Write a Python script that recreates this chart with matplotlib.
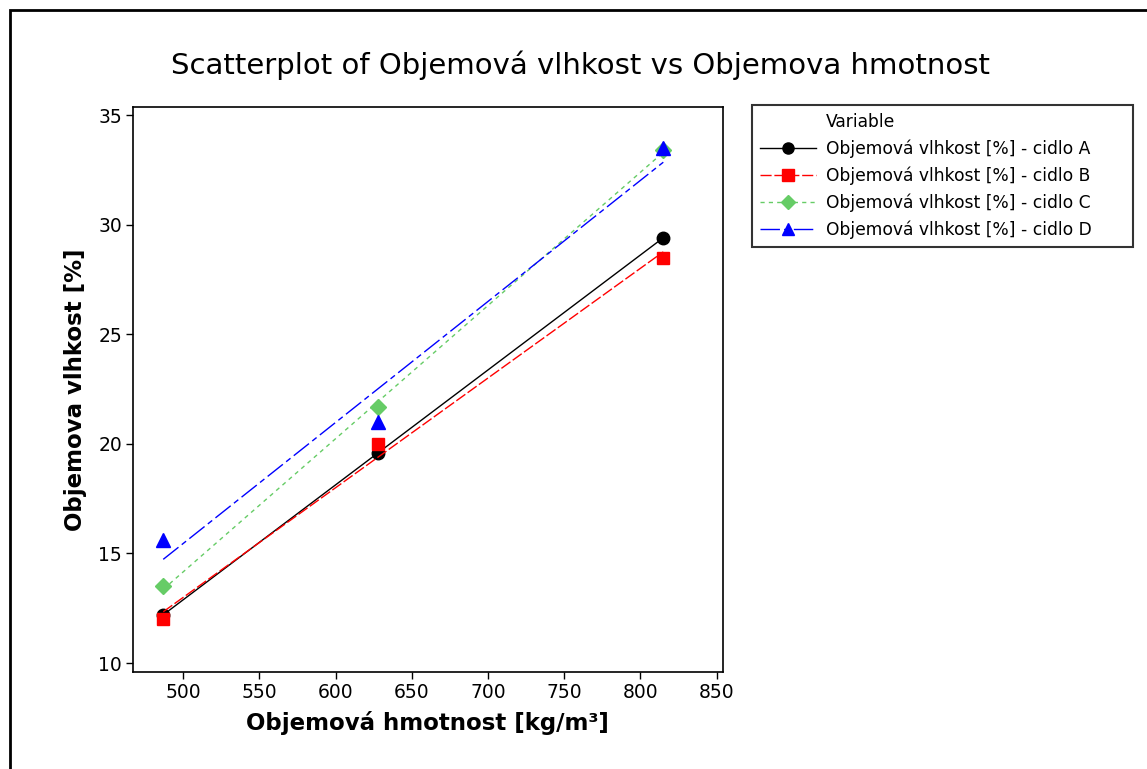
import numpy as np
import matplotlib.pyplot as plt
from matplotlib.lines import Line2D
from matplotlib.patches import Rectangle

# density values [kg/m3] and measured moisture per sensor [%]
hmotnost = [487, 628, 815]
cidlo_a = [12.2, 19.6, 29.4]
cidlo_b = [12.0, 20.0, 28.5]
cidlo_c = [13.5, 21.7, 33.4]
cidlo_d = [15.6, 21.0, 33.5]

labels = ["Objemová vlhkost [%] - cidlo A", "Objemová vlhkost [%] - cidlo B",
          "Objemová vlhkost [%] - cidlo C", "Objemová vlhkost [%] - cidlo D"]
xticks = [500, 550, 600, 650, 700, 750, 800, 850]
yticks = [10, 15, 20, 25, 30, 35]

plt.rcParams['font.family'] = 'DejaVu Sans'

fig = plt.figure(figsize=(11.47, 7.69), dpi=100)
ax = fig.add_axes([0.116, 0.126, 0.514, 0.735])

styles = [
    dict(color='black', marker='o', ms=9, ls='-', dashes=None),
    dict(color='#ff0000', marker='s', ms=9, ls='--', dashes=(8, 2)),
    dict(color='#66cc66', marker='D', ms=8, ls='--', dashes=(3, 3)),
    dict(color='#0000ff', marker='^', ms=10, ls='--', dashes=(14, 3, 4, 3)),
]

xs = np.array(hmotnost, dtype=float)
xfit = np.array([xs.min(), xs.max()])
handles = [Line2D([], [], ls='none', marker='none')]
for ys, st, lab in zip([cidlo_a, cidlo_b, cidlo_c, cidlo_d], styles, labels):
    k, q = np.polyfit(xs, ys, 1)
    line, = ax.plot(xfit, k * xfit + q, color=st['color'], lw=1.0, ls=st['ls'])
    if st['dashes'] is not None:
        line.set_dashes(st['dashes'])
    ax.plot(xs, ys, ls='none', marker=st['marker'], ms=st['ms'],
            color=st['color'], mec=st['color'])
    h = Line2D([], [], color=st['color'], lw=1.0, ls=st['ls'],
               marker=st['marker'], ms=st['ms'] - 1, mec=st['color'])
    if st['dashes'] is not None:
        h.set_dashes(st['dashes'])
    handles.append(h)

ax.set_xlim(467.2, 853.9)
ax.set_ylim(9.59, 35.37)
ax.set_xticks(xticks)
ax.set_yticks(yticks)
ax.tick_params(direction='out', length=5, width=1, labelsize=13.5, pad=3)
for s in ax.spines.values():
    s.set_linewidth(1.2)

ax.set_xlabel("Objemová hmotnost [kg/m³]", fontsize=16.5, fontweight='bold', labelpad=6)
ax.set_ylabel("Objemova vlhkost [%]", fontsize=16.5, fontweight='bold', labelpad=8)
fig.text(0.506, 0.915, "Scatterplot of Objemová vlhkost vs Objemova hmotnost",
         ha='center', va='center', fontsize=21)

leg = fig.legend(handles, ["Variable"] + labels, loc='upper left',
                 bbox_to_anchor=(752 / 1147, 1 - 105 / 769 - 0.01, 381 / 1147, 0.01),
                 mode='expand', fontsize=12.3, frameon=True,
                 fancybox=False, edgecolor='black', handlelength=3.3,
                 borderpad=0.45, labelspacing=0.5, handletextpad=0.6,
                 borderaxespad=0.0)
leg.get_frame().set_linewidth(1.5)

# outer frame around the whole graph
fig.add_artist(Rectangle((10 / 1147, -0.05), 1.2, 0.05 + (769 - 10) / 769,
                         transform=fig.transFigure, fill=False,
                         edgecolor='black', lw=2))

fig.savefig("out.png", dpi=100)
